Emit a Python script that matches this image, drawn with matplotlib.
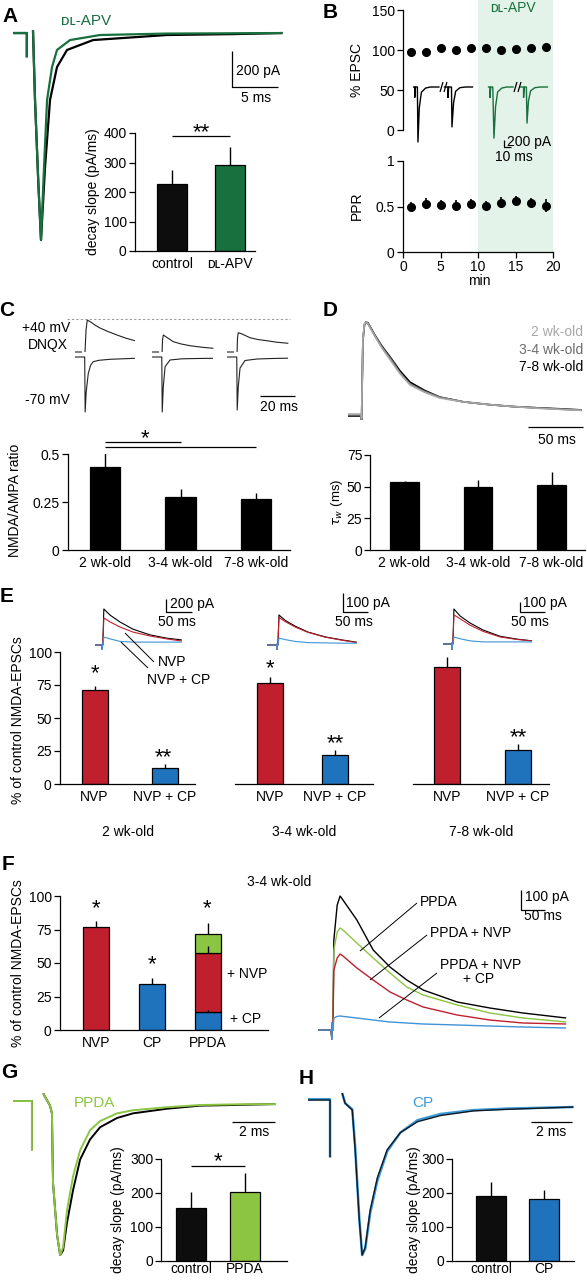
import numpy as np
import matplotlib
matplotlib.use("Agg")
import matplotlib.pyplot as plt
from matplotlib.lines import Line2D

nan = np.nan

# ---------------------------------------------------------------- data
# A  decay slope (pA/ms) + example EPSCs (ms, pA)
a_groups = ["control", "ᴅʟ-APV"]
a_slope = [227, 293]
a_slope_sem = [47, 58]
a_ctrl_t = [0, 1.45, 1.5, 1.5, nan, 2.17, 2.39, 2.75, 3.04, 3.48, 4.02, 4.78, 5.87, 8.7, 16.7, 23.9, 29.3]
a_ctrl_i = [0, 0, 0, -135, nan, 15, -372, -833, -1150, -744, -372, -189, -94, -39, -11, -6, 0]
a_apv_t = [0, 1.45, 1.5, 1.5, nan, 2.17, 2.39, 2.75, 3.04, 3.37, 3.70, 4.24, 4.78, 6.2, 9.46, 16.7, 29.3]
a_apv_i = [0, 0, 0, -135, nan, 15, -372, -833, -1150, -744, -372, -189, -94, -39, -11, -3, 0]

# B  time course
b_min = [1, 3, 5, 7, 9, 11, 13, 15, 17, 19]
b_epsc = [97, 97, 103, 100, 102, 103, 100, 101, 103, 104]
b_epsc_sem = [2, 2, 2, 2, 2, 2, 2, 3, 3, 4]
b_ppr = [0.50, 0.53, 0.52, 0.51, 0.53, 0.51, 0.54, 0.56, 0.54, 0.51]
b_ppr_sem = [0.05, 0.06, 0.05, 0.06, 0.05, 0.05, 0.06, 0.05, 0.05, 0.07]
# B  paired-pulse traces (ms, pA)
b_ctrl_t1 = [0, 2.5, 2.5, 3.5, 6.3, 7.1, 9, 12, 18, 25, 38]
b_ctrl_i1 = [0, 0, -300, 0, 0, -1570, -600, -150, -30, 0, 0]
b_ctrl_t2 = [44, 50, 50, 51, 55, 55.7, 58, 61, 67, 75, 86]
b_ctrl_i2 = [0, 0, -300, 0, 0, -1140, -450, -120, -20, 0, 0]
b_apv_t1 = [107, 110, 110, 111, 114, 115.7, 118, 121, 127, 134, 144]
b_apv_i1 = [0, 0, -300, 0, 0, -1460, -560, -140, -30, 0, 0]
b_apv_t2 = [153, 158, 158, 159, 162, 162.9, 165, 168, 174, 182, 193]
b_apv_i2 = [0, 0, -300, 0, 0, -1030, -400, -110, -20, 0, 0]

# C  NMDA/AMPA ratio
ages = ["2 wk-old", "3-4 wk-old", "7-8 wk-old"]
c_ratio = [0.43, 0.278, 0.267]
c_ratio_sem = [0.09, 0.038, 0.031]
# C  traces (ms from sweep start, pA): +40 mV in DNQX and -70 mV
c_pos_t = [
    [0, 4.7, nan, 6.7, 7.4, 8.2, 11, 13.5, 16.7, 22, 28, 34, 40],
    [0, 4.7, nan, 6.7, 7.0, 7.5, 9.5, 14.2, 19.5, 25.3, 33, 40.9],
    [0, 4.7, nan, 6.7, 7.0, 7.5, 10, 15.3, 20.5, 26.4, 33, 40.9],
]
c_pos_i = [
    [0, 0, nan, 0, 220, 320, 295, 268, 240, 205, 170, 138, 113],
    [0, 0, nan, 0, 120, 170, 150, 103, 80, 63, 48, 37],
    [0, 0, nan, 0, 140, 193, 180, 143, 125, 113, 98, 87],
]
c_neg_t = [
    [0, 6.5, 6.8, 7.5, 8.9, 10.5, 12.2, 16, 23.3, 40],
    [0, 6.5, 6.8, 7.5, 8.7, 12, 20, 30, 40.7],
    [0, 6.5, 6.8, 7.5, 8.7, 12, 20, 30, 40.7],
]
c_neg_i = [
    [0, 0, -550, -350, -163, -80, -47, -33, -23, -13],
    [0, 0, -550, -300, -97, -30, -18, -15, -13],
    [0, 0, -530, -300, -110, -35, -20, -15, -12],
]

# D  weighted decay tau (ms) + peak-scaled NMDA-EPSCs
d_tau = [53.5, 49.5, 51.5]
d_tau_sem = [1, 6, 10]
d_t = [0, 11.8, 12.4, 12.7, 13.6, 15, 16.4, 18.2, 24.5, 31, 38.2, 47.3, 56.4, 70, 83.6, 105, 129, 150, 174.5, 195, 212.7]
d_2wk = [0.02, 0.02, -0.03, 0.22, 0.82, 0.98, 1.0, 0.98, 0.85, 0.72, 0.60, 0.45, 0.33, 0.25, 0.19, 0.15, 0.12, 0.10, 0.08, 0.07, 0.06]
d_34wk = [0.01, 0.01, -0.05, 0.20, 0.80, 0.97, 1.0, 0.98, 0.85, 0.73, 0.62, 0.46, 0.34, 0.26, 0.20, 0.15, 0.12, 0.10, 0.085, 0.07, 0.06]
d_78wk = [0, 0, -0.04, 0.20, 0.81, 0.97, 1.0, 0.99, 0.86, 0.74, 0.63, 0.48, 0.36, 0.27, 0.20, 0.15, 0.12, 0.10, 0.085, 0.075, 0.064]

# E  % of control NMDA-EPSCs per age
e_groups = ["NVP", "NVP + CP"]
e_vals = [[71, 12.5], [76.5, 22], [89, 26]]
e_sems = [[3.5, 2.5], [4.5, 3.8], [7.5, 4.5]]
# E  traces, normalised to control peak
e_t = [
    [0, 13.5, 14, 14.5, 15, 17, 29, 48, 73, 106, 138, 167],
    [0, 19, 19.5, 20, 21, 23, 35, 54, 79, 112, 144, 173],
    [0, 17, 17.5, 18, 19, 21, 33, 52, 77, 110, 142, 171],
]
e_ctrl = [
    [0, 0, -0.12, 0.05, 0, 1.0, 0.83, 0.64, 0.44, 0.28, 0.19, 0.14],
    [0, 0, -0.15, 0.05, 0, 1.0, 0.82, 0.63, 0.43, 0.27, 0.17, 0.09],
    [0, 0, -0.15, 0.05, 0, 1.0, 0.80, 0.60, 0.40, 0.22, 0.14, 0.09],
]
e_nvp = [
    [0, 0, -0.12, 0.05, 0, 0.75, 0.64, 0.50, 0.36, 0.25, 0.17, 0.11],
    [0, 0, -0.15, 0.05, 0, 0.92, 0.78, 0.60, 0.42, 0.26, 0.16, 0.08],
    [0, 0, -0.15, 0.05, 0, 0.83, 0.72, 0.54, 0.36, 0.20, 0.13, 0.09],
]
e_nvpcp = [
    [0, 0, -0.12, 0.05, 0, 0.22, 0.17, 0.10, 0.08, 0.08, 0.08, 0.08],
    [0, 0, -0.15, 0.05, 0, 0.23, 0.18, 0.12, 0.08, 0.07, 0.06, 0.06],
    [0, 0, -0.15, 0.05, 0, 0.20, 0.15, 0.09, 0.06, 0.06, 0.06, 0.06],
]

# F  3-4 wk-old, single antagonists and PPDA stack
f_groups = ["NVP", "CP", "PPDA"]
f_single = [77, 34]
f_single_sem = [4, 5]
f_ppda_cp = 13.5        # remaining after PPDA + NVP + CP
f_ppda_nvp = 57.5       # remaining after PPDA + NVP
f_ppda = 72             # remaining after PPDA
f_ppda_sem = [1.5, 5.5, 7.5]
f_t = [0, 27, 29, 29.5, 31, 33, 40, 46, 52, 81, 115, 150, 185, 219, 290, 358, 427, 517]
f_ctrl = [0, 0, -45, 35, 0, 450, 625, 670, 650, 550, 400, 315, 250, 200, 140, 110, 85, 60]
f_tr_ppda = [0, 0, -45, 35, 0, 400, 490, 510, 500, 435, 360, 285, 215, 175, 125, 85, 60, 40]
f_tr_nvp = [0, 0, -45, 35, 0, 300, 360, 380, 370, 310, 250, 190, 150, 115, 75, 50, 35, 30]
f_tr_cp = [0, 0, -45, 35, 0, 60, 68, 70, 68, 60, 50, 40, 35, 30, 25, 20, 15, 10]

# G / H  decay slopes + normalised AMPA-EPSCs
g_groups = ["control", "PPDA"]
g_slope = [156, 202]
g_slope_sem = [48, 58]
h_groups = ["control", "CP"]
h_slope = [190, 181]
h_slope_sem = [43, 28]
g_t = [0, 0.84, 0.88, 0.88, nan, 1.40, 1.72, 1.81, 1.86, 2.05, 2.19, 2.33, 2.51, 2.79, 3.12, 3.58, 4.05, 4.84, 5.58, 7.16, 8.7, 10.2, 12.2]
g_ctrl = [0, 0, 0, -0.32, nan, 0.05, -0.03, -0.08, -0.53, -0.87, -1.0, -0.97, -0.79, -0.58, -0.38, -0.25, -0.17, -0.11, -0.08, -0.05, -0.03, -0.026, -0.02]
g_ppda = [0, 0, 0, -0.32, nan, 0.05, -0.03, -0.08, -0.53, -0.87, -1.0, -0.95, -0.71, -0.49, -0.32, -0.19, -0.13, -0.08, -0.06, -0.04, -0.026, -0.022, -0.02]
h_t = [0, 0.98, 1.07, 1.07, nan, 1.66, 1.8, 2.15, 2.29, 2.49, 2.63, 2.78, 3.02, 3.37, 3.85, 4.49, 5.32, 6.44, 8.05, 9.7, 12.9]
h_ctrl = [0, 0, 0, -0.37, nan, 0.045, -0.02, -0.065, -0.32, -0.77, -1.0, -0.95, -0.71, -0.50, -0.32, -0.21, -0.14, -0.10, -0.07, -0.06, -0.045]
h_cp = [0.005, 0.005, 0.005, -0.37, nan, 0.045, -0.02, -0.06, -0.30, -0.76, -1.0, -0.96, -0.73, -0.52, -0.33, -0.21, -0.13, -0.09, -0.065, -0.055, -0.045]

# ---------------------------------------------------------------- style
DKGREEN = "#17703e"
SHADE = "#e3f3e9"
RED = "#c0202e"
BLUE = "#1f73bd"
TRBLUE = "#3f93d6"
LTGREEN = "#8cc541"
CPBLUE = "#3a98d6"

plt.rcParams.update({
    "font.family": ["Liberation Sans", "DejaVu Sans"],
    "font.size": 10,
    "axes.linewidth": 0.9,
    "xtick.labelsize": 10,
    "ytick.labelsize": 10,
    "xtick.major.width": 0.9,
    "ytick.major.width": 0.9,
    "lines.solid_capstyle": "butt",
})

W, H = 587, 1280
fig = plt.figure(figsize=(W / 100, H / 100), dpi=100)


def box(x0, y0, x1, y1):
    # axes from a pixel box (top-left origin)
    ax = fig.add_axes([x0 / W, 1 - y1 / H, (x1 - x0) / W, (y1 - y0) / H])
    ax.patch.set_alpha(0)
    return ax


def txt(x, y, s, **kw):
    kw.setdefault("ha", "center")
    kw.setdefault("va", "center")
    return fig.text(x / W, 1 - y / H, s, **kw)


def seg(pts, color="k", lw=0.9):
    fig.add_artist(Line2D([p[0] / W for p in pts], [1 - p[1] / H for p in pts],
                          color=color, lw=lw, solid_capstyle="butt"))


def star(x, y, s):
    txt(x, y + 6, s, fontsize=16)


def trace_ax(x0, y0, x1, y1, xlim, ylim):
    ax = box(x0, y0, x1, y1)
    ax.set_xlim(*xlim)
    ax.set_ylim(*ylim)
    ax.axis("off")
    return ax


def bar_ax(left, right, top, bottom, c0, step, ymax, yticks, yticklabels=None,
           show_y=True, xpad=4, ypad=2):
    ax = box(left, top, right, bottom)
    ax.set_xlim((left - c0) / step, (right - c0) / step)
    ax.set_ylim(0, ymax)
    ax.spines[["top", "right"]].set_visible(False)
    ax.tick_params(axis="x", length=0, pad=xpad)
    ax.tick_params(axis="y", length=4, pad=ypad)
    if show_y:
        ax.set_yticks(yticks)
        if yticklabels is not None:
            ax.set_yticklabels(yticklabels)
    else:
        ax.spines["left"].set_visible(False)
        ax.set_yticks([])
    return ax


def bars(ax, vals, errs, colors, width, labels):
    x = np.arange(len(vals))
    ax.bar(x, vals, width, color=colors, edgecolor="k", linewidth=0.9, zorder=2)
    ax.errorbar(x, vals, yerr=[np.zeros(len(vals)), errs], fmt="none", ecolor="k",
                elinewidth=1.0, capsize=0, zorder=3)
    ax.set_xticks(x)
    ax.set_xticklabels(labels)


def sigline(ax, i0, i1, y):
    ax.plot([i0, i1], [y, y], color="k", lw=0.9, clip_on=False)


# ---------------------------------------------------------------- A
txt(10, 17, "A", fontsize=15, fontweight="bold")
ax = trace_ax(10, 10, 285, 260, (-0.33, 29.57), (-1261, 128))
ax.plot(a_ctrl_t, a_ctrl_i, color="k", lw=1.6)
ax.plot(a_apv_t, a_apv_i, color=DKGREEN, lw=1.6)
txt(86, 21, "ᴅʟ-APV", color=DKGREEN, fontsize=11)
seg([(232, 51), (232, 87), (278, 87)])
txt(236, 71, "200 pA", ha="left")
txt(256, 98, "5 ms")

ax = bar_ax(135, 255, 133, 251, 172, 58, 400, [0, 100, 200, 300, 400])
bars(ax, a_slope, a_slope_sem, ["#0d0d0d", DKGREEN], 0.53, a_groups)
sigline(ax, 0, 1, 390)
star(201, 127, "**")
txt(93, 192, "decay slope (pA/ms)", rotation=90)

# ---------------------------------------------------------------- B
txt(330, 12, "B", fontsize=15, fontweight="bold")
ax = box(403, 0, 553, 252)
ax.set_xlim(0, 20)
ax.axvspan(10, 20, color=SHADE, lw=0)
ax.axis("off")
txt(513, 8, "ᴅʟ-APV", color=DKGREEN, fontsize=10)

ax = box(403, 10, 553, 130)
ax.errorbar(b_min, b_epsc, yerr=b_epsc_sem, fmt="o", color="k", ms=5.5,
            elinewidth=1.2, capsize=0, clip_on=False)
ax.set_xlim(0, 20)
ax.set_ylim(0, 150)
ax.set_yticks([0, 50, 100, 150])
ax.set_xticks([])
ax.spines[["top", "right", "bottom"]].set_visible(False)
ax.tick_params(axis="y", length=4, pad=2)
txt(357, 70, "% EPSC", rotation=90)

ax = box(403, 161, 553, 252)
ax.errorbar(b_min, b_ppr, yerr=b_ppr_sem, fmt="o", color="k", ms=5.5,
            elinewidth=1.2, capsize=0, clip_on=False)
ax.set_xlim(0, 20)
ax.set_ylim(0, 1)
ax.set_yticks([0, 0.5, 1])
ax.set_yticklabels(["0", "0.5", "1"])
ax.set_xticks([0, 5, 10, 15, 20])
ax.spines[["top", "right"]].set_visible(False)
ax.tick_params(length=4, pad=2)
txt(357, 206, "PPR", rotation=90)
txt(479, 281, "min")

ax = trace_ax(405, 80, 555, 150, (-11.4, 202.9), (-1800, 200))
ax.plot(b_ctrl_t1, b_ctrl_i1, color="k", lw=1.0)
ax.plot(b_ctrl_t2, b_ctrl_i2, color="k", lw=1.0)
ax.plot(b_apv_t1, b_apv_i1, color=DKGREEN, lw=1.0)
ax.plot(b_apv_t2, b_apv_i2, color=DKGREEN, lw=1.0)
for x in (440, 444, 514, 518):
    seg([(x, 92), (x + 3, 82)], lw=0.9)
seg([(504, 140), (504, 147), (511, 147)])
txt(507, 142, "200 pA", ha="left")
txt(514, 157, "10 ms")

# ---------------------------------------------------------------- C
txt(7, 310, "C", fontsize=15, fontweight="bold")
C_POS_OFFSET = 50
ax = trace_ax(70, 312, 290, 420, (0, 146.7), (-630, 450))
c_start = [3.3, 54.7, 104.7]
for k in range(3):
    ax.plot(np.array(c_pos_t[k]) + c_start[k], np.array(c_pos_i[k]) + C_POS_OFFSET, color="#222", lw=0.8)
    ax.plot(np.array(c_neg_t[k]) + c_start[k], c_neg_i[k], color="#222", lw=0.8)
peak = np.nanmax(c_pos_i[0]) + C_POS_OFFSET + 10
ax.plot([-2, 147], [peak, peak], color="#999", lw=0.8, ls=(0, (2, 2)), clip_on=False)
txt(70, 328, "+40 mV", ha="right")
txt(68, 345, "DNQX", ha="right")
txt(70, 400, "-70 mV", ha="right")
seg([(260, 396), (295, 396)])
txt(279, 407, "20 ms")

ax = bar_ax(68, 290, 454, 550, 105, 75.5, 0.5, [0, 0.25, 0.5], ["0", "0.25", "0.5"])
bars(ax, c_ratio, c_ratio_sem, "k", 0.4, ages)
sigline(ax, 0, 1, 0.564)
sigline(ax, 0, 2, 0.538)
star(145, 433, "*")
txt(15, 500, "NMDA/AMPA ratio", rotation=90)

# ---------------------------------------------------------------- D
txt(330, 310, "D", fontsize=15, fontweight="bold")
ax = trace_ax(345, 315, 585, 420, (-2.7, 215.5), (-0.043, 1.074))
ax.plot(d_t, d_78wk, color="k", lw=1.2)
ax.plot(d_t, d_34wk, color="#6d6d6d", lw=1.2)
ax.plot(d_t, d_2wk, color="#a8a8a8", lw=1.2)
txt(583, 332, "2 wk-old", ha="right", color="#a8a8a8")
txt(583, 350, "3-4 wk-old", ha="right", color="#6d6d6d")
txt(583, 367, "7-8 wk-old", ha="right", color="k")
seg([(528, 427), (583, 427)])
txt(557, 440, "50 ms")

ax = bar_ax(370, 585, 455, 550, 404.5, 73.5, 75, [0, 25, 50, 75], ypad=1.5)
bars(ax, d_tau, d_tau_sem, "k", 0.39, ages)
txt(337, 502, r"$\tau_w$ (ms)", rotation=90, fontsize=9.5)

# ---------------------------------------------------------------- E
txt(7, 596, "E", fontsize=15, fontweight="bold")
e_boxes = [(95, 645, 36), (267, 645, 30), (443, 644, 35)]
for k, (x0, base, amp) in enumerate(e_boxes):
    ax = trace_ax(x0, 598, x0 + 95, 656, (0, 182.7),
                  (-(656 - base) / amp, (base - 598) / amp))
    ax.plot(e_t[k], e_ctrl[k], color="k", lw=0.8)
    ax.plot(e_t[k], e_nvp[k], color=RED, lw=0.8)
    ax.plot(e_t[k], e_nvpcp[k], color=TRBLUE, lw=0.8)
seg([(166, 599), (166, 612), (192, 612)])
txt(170, 604, "200 pA", ha="left")
txt(177, 622, "50 ms")
seg([(343, 593), (343, 612), (368, 612)])
txt(346, 603, "100 pA", ha="left")
txt(354, 622, "50 ms")
seg([(520, 602), (520, 612), (545, 612)])
txt(523, 603, "100 pA", ha="left")
txt(530, 622, "50 ms")
seg([(125, 633), (154, 662)], lw=0.7)
seg([(121, 642), (148, 668)], lw=0.7)
txt(158, 662, "NVP", ha="left")
txt(147, 680, "NVP + CP", ha="left")

e_layout = [(60, 195, 94.5, 70), (235, 373, 270, 65), (413, 549, 447, 70.5)]
for k, (l, r, c0, st) in enumerate(e_layout):
    ax = bar_ax(l, r, 652, 784, c0, st, 100, [0, 25, 50, 75, 100], show_y=(k == 0))
    bars(ax, e_vals[k], e_sems[k], [RED, BLUE], 26 / st, e_groups)
    txt((l + r) / 2, 832, ages[k])
star(95, 668, "*")
star(163, 752, "**")
star(270, 663, "*")
star(335, 738, "**")
star(518, 732, "**")
txt(18, 720, "% of control NMDA-EPSCs", rotation=90)

# ---------------------------------------------------------------- F
txt(8, 864, "F", fontsize=15, fontweight="bold")
txt(279, 882, "3-4 wk-old")
ax = bar_ax(60, 268, 896, 1030, 96, 56, 100, [0, 25, 50, 75, 100])
xs = np.arange(3)
ax.bar(xs[:2], f_single, 0.48, color=[RED, BLUE], edgecolor="k", linewidth=0.9, zorder=2)
ax.bar(2, f_ppda_cp, 0.48, color=BLUE, edgecolor="k", linewidth=0.9, zorder=2)
ax.bar(2, f_ppda_nvp - f_ppda_cp, 0.48, bottom=f_ppda_cp, color=RED, edgecolor="k", linewidth=0.9, zorder=2)
ax.bar(2, f_ppda - f_ppda_nvp, 0.48, bottom=f_ppda_nvp, color=LTGREEN, edgecolor="k", linewidth=0.9, zorder=2)
ax.errorbar(xs[:2], f_single, yerr=[[0, 0], f_single_sem], fmt="none", ecolor="k", elinewidth=1.0, zorder=3)
ax.errorbar([2, 2, 2], [f_ppda_cp, f_ppda_nvp, f_ppda], yerr=[[0, 0, 0], f_ppda_sem],
            fmt="none", ecolor="k", elinewidth=1.0, zorder=3)
ax.set_xticks(xs)
ax.set_xticklabels(f_groups)
star(96, 903, "*")
star(152, 959, "*")
star(207, 903, "*")
txt(227, 974, "+ NVP", ha="left")
txt(230, 1019, "+ CP", ha="left")
txt(18, 963, "% of control NMDA-EPSCs", rotation=90)

ax = trace_ax(315, 885, 575, 1045, (-6.25, 535.4), (-75, 725))
ax.plot(f_t, f_ctrl, color="k", lw=1.0)
ax.plot(f_t, f_tr_ppda, color=LTGREEN, lw=1.0)
ax.plot(f_t, f_tr_nvp, color=RED, lw=1.0)
ax.plot(f_t, f_tr_cp, color=TRBLUE, lw=1.0)
seg([(417, 903), (360, 951)], lw=0.7)
seg([(427, 935), (370, 980)], lw=0.7)
seg([(437, 973), (379, 1018)], lw=0.7)
txt(420, 902, "PPDA", ha="left")
txt(430, 933, "PPDA + NVP", ha="left")
txt(440, 965, "PPDA + NVP", ha="left")
txt(479, 979, "+ CP")
seg([(521, 890), (521, 910), (545, 910)])
txt(525, 897, "100 pA", ha="left")
txt(543, 916, "50 ms")

# ---------------------------------------------------------------- G
txt(9, 1073, "G", fontsize=15, fontweight="bold")
ax = trace_ax(10, 1085, 290, 1262, (-0.14, 12.88), (-1.045, 0.104))
ax.plot(g_t, g_ctrl, color="k", lw=1.4)
ax.plot(g_t, g_ppda, color=LTGREEN, lw=1.4)
txt(74, 1103, "PPDA", ha="left", color=LTGREEN, fontsize=11)
seg([(232, 1122), (275, 1122)])
txt(254, 1132, "2 ms")
ax = bar_ax(161, 287, 1159, 1261, 191, 54, 300, [0, 100, 200, 300], xpad=1, ypad=1.5)
bars(ax, g_slope, g_slope_sem, ["#0d0d0d", LTGREEN], 0.54, g_groups)
sigline(ax, 0, 1, 280)
star(218, 1156, "*")
txt(118, 1210, "decay slope (pA/ms)", rotation=90)

# ---------------------------------------------------------------- H
txt(306, 1078, "H", fontsize=15, fontweight="bold")
ax = trace_ax(300, 1085, 585, 1262, (-0.39, 13.46), (-1.045, 0.097))
ax.plot(h_t, h_cp, color=CPBLUE, lw=1.8)
ax.plot(h_t, h_ctrl, color="#101820", lw=1.0)
txt(412, 1103, "CP", ha="left", color=CPBLUE, fontsize=11)
seg([(531, 1122), (572, 1122)])
txt(551, 1132, "2 ms")
ax = bar_ax(452, 574, 1159, 1261, 491, 53, 300, [0, 100, 200, 300], xpad=1, ypad=1.5)
bars(ax, h_slope, h_slope_sem, ["#0d0d0d", BLUE], 0.55, h_groups)
txt(414, 1210, "decay slope (pA/ms)", rotation=90)

fig.savefig("out.png", dpi=100, facecolor="white")
